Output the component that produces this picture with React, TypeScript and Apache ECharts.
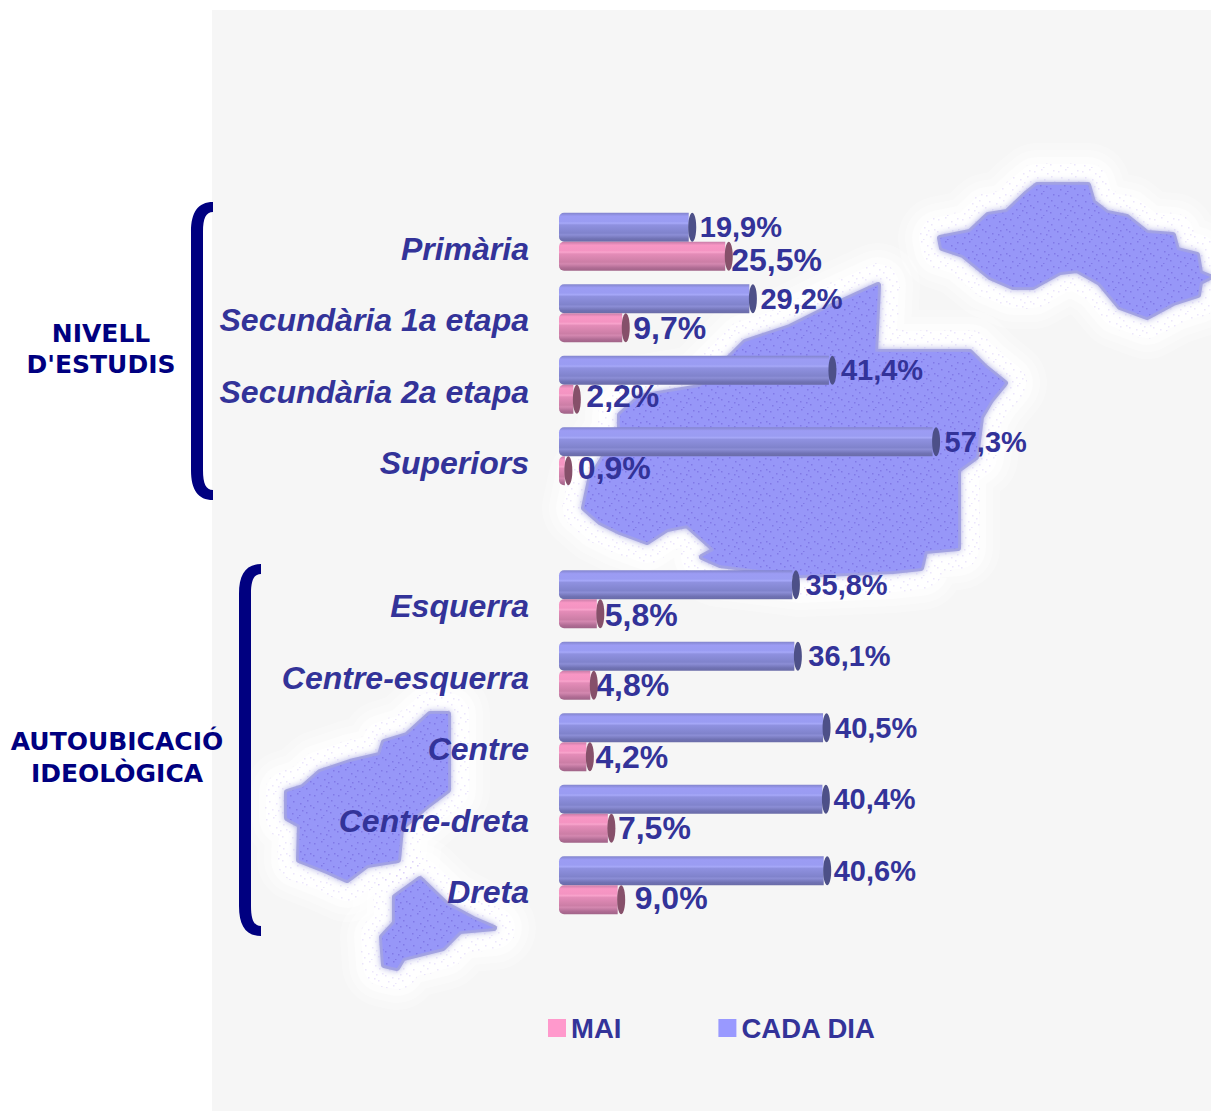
import React, { useEffect, useRef } from "react";
import * as echarts from "echarts";

const categories = ["Primària", "Secundària 1a etapa", "Secundària 2a etapa", "Superiors", "", "Esquerra", "Centre-esquerra", "Centre", "Centre-dreta", "Dreta"];
const cadaDia = [19.9, 29.2, 41.4, 57.3, null, 35.8, 36.1, 40.5, 40.4, 40.6];
const mai = [25.5, 9.7, 2.2, 0.9, null, 5.8, 4.8, 4.2, 7.5, 9.0];
const seriesNames = ["MAI", "CADA DIA"];
const groupLabels = ["NIVELL\nD'ESTUDIS", "AUTOUBICACIÓ\nIDEOLÒGICA"];

const cadaDiaNudge = [[1, 0], [1, 0], [2, 0], [2, 0], [0, 0], [3, 0], [4, 0], [2, 0], [1, 0], [0, 0]];
const maiNudge = [[-4, 4], [1, 0], [3, -3], [3, -3], [0, 0], [-2, 1], [-4, 0], [-1, 0], [0, 0], [7, -2]];

const islands = [
  [[940, 238], [970, 232], [988, 215], [1007, 212], [1027, 193], [1037, 185], [1088, 185], [1093, 202], [1107, 213], [1127, 217], [1147, 233], [1173, 235], [1177, 250], [1197, 255], [1200, 273], [1210, 277], [1200, 282], [1198, 295], [1173, 303], [1147, 317], [1120, 307], [1100, 283], [1077, 270], [1060, 272], [1033, 287], [1013, 287], [990, 277], [963, 255], [942, 248]],
  [[878, 285], [875, 352], [915, 352], [970, 352], [985, 367], [1005, 383], [991, 400], [981, 417], [976, 457], [958, 470], [958, 548], [925, 551], [921, 568], [893, 571], [800, 575], [720, 565], [702, 557], [715, 550], [687, 525], [667, 529], [647, 542], [620, 532], [600, 522], [584, 508], [590, 480], [620, 430], [620, 415], [640, 397], [700, 387], [730, 357], [745, 342], [790, 327], [830, 307]],
  [[430, 714], [448, 714], [448, 790], [428, 805], [401, 828], [398, 860], [367, 865], [347, 880], [327, 871], [299, 860], [300, 825], [287, 818], [287, 792], [303, 787], [320, 772], [350, 762], [380, 755], [384, 742], [407, 735]],
  [[420, 879], [447, 905], [473, 919], [494, 928], [460, 931], [443, 948], [403, 958], [397, 968], [384, 965], [382, 937], [395, 923], [395, 897]],
];
const dotTile = [[2, 3], [9, 1], [15, 5], [21, 2], [5, 9], [12, 11], [19, 8], [1, 15], [8, 17], [16, 14], [22, 13], [4, 21], [11, 23], [18, 20], [14, 18]];
const haloRings = [[84, 0.25], [70, 0.35], [56, 0.5], [42, 0.8]];

const INK = "#333399";
const NAVY = "#000080";
const FONT = '"Liberation Sans", Arial, sans-serif';

const stops = (list: [number, string][]) => ({
  type: "linear", x: 0, y: 0, x2: 0, y2: 1,
  colorStops: list.map(([offset, color]) => ({ offset, color })),
});
const blueFill = stops([[0, "#8284cc"], [0.12, "#9c9cf4"], [0.3, "#9a9cf2"], [0.36, "#a6a8f8"], [0.42, "#8f91e0"], [0.7, "#8083cc"], [0.76, "#8c8ed6"], [0.9, "#7072b4"], [1, "#6a6ca8"]]);
const pinkFill = stops([[0, "#c87ca8"], [0.12, "#f896c4"], [0.3, "#f494c2"], [0.36, "#f8a4cc"], [0.42, "#e48cb8"], [0.7, "#cc7ea6"], [0.76, "#d488b0"], [0.9, "#b06c94"], [1, "#a06488"]]);

const labelled = (values: (number | null)[], nudge: number[][], fontSize: number) =>
  values.map((value, i) => ({
    value,
    label: { offset: nudge[i], fontSize },
  }));
const capData = (values: (number | null)[]) => values.map((v, i) => (v === null ? ["-", i] : [v, i]));
const fmt = (p: any) => (p.value === null ? "" : p.value.toFixed(1).replace(".", ",") + "%");

function bracket(x: number, top: number, bottom: number) {
  const r = x + 22, o = x, i = x + 12;
  return `M${r} ${top} C${o + 7} ${top} ${o} ${top + 10} ${o} ${top + 30} L${o} ${bottom - 30} C${o} ${bottom - 10} ${o + 7} ${bottom} ${r} ${bottom} L${r} ${bottom - 10} C${i + 3} ${bottom - 10} ${i} ${bottom - 16} ${i} ${bottom - 30} L${i} ${top + 30} C${i} ${top + 16} ${i + 3} ${top + 10} ${r} ${top + 10} Z`;
}

function makeTile(color: string) {
  const c = document.createElement("canvas");
  c.width = 24;
  c.height = 24;
  const g = c.getContext("2d")!;
  g.fillStyle = color;
  dotTile.forEach(([x, y]) => g.fillRect(x, y, 1.5, 1.5));
  return c;
}

export default function App() {
  const ref = useRef<HTMLDivElement>(null);
  useEffect(() => {
    echarts.graphic.registerShape("bracketA", echarts.graphic.extendPath(bracket(191, 202, 500), {}));
    echarts.graphic.registerShape("bracketB", echarts.graphic.extendPath(bracket(239, 564, 936), {}));
    const chart = echarts.init(ref.current!, null, { renderer: "svg" });
    const barLabel = { show: true, position: "right", distance: 10, color: INK, fontFamily: FONT, fontWeight: "bold", formatter: fmt };
    const innerDots = { image: makeTile("rgba(90,70,200,0.38)"), repeat: "repeat" };
    const haloDots = { image: makeTile("rgba(170,140,240,0.22)"), repeat: "repeat" };
    chart.setOption({
      animation: false,
      backgroundColor: "#ffffff",
      grid: { left: 559, top: 206, width: 656, height: 715, containLabel: false },
      xAxis: { type: "value", min: 0, max: 100, show: false },
      yAxis: {
        type: "category", inverse: true, data: categories,
        axisLine: { show: false }, axisTick: { show: false }, splitLine: { show: false },
        axisLabel: { margin: 30, color: INK, fontFamily: FONT, fontSize: 32, fontWeight: "bold", fontStyle: "italic", interval: 0, verticalAlign: "top", lineHeight: 14 },
      },
      legend: {
        left: 548, top: 1014, padding: 0, itemWidth: 18, itemHeight: 18, itemGap: 97, icon: "rect",
        data: [
          { name: seriesNames[0], itemStyle: { color: "#ff99cc" } },
          { name: seriesNames[1], itemStyle: { color: "#9999ff" } },
        ],
        textStyle: { color: INK, fontFamily: FONT, fontSize: 27.5, fontWeight: "bold" },
      },
      series: [
        { name: seriesNames[1], type: "bar", barWidth: 29, barGap: 0, data: labelled(cadaDia, cadaDiaNudge, 29), itemStyle: { color: blueFill, borderRadius: [5, 0, 0, 5] }, label: barLabel, z: 3 },
        { name: seriesNames[0], type: "bar", barWidth: 29, barGap: 0, data: labelled(mai, maiNudge, 32), itemStyle: { color: pinkFill, borderRadius: [5, 0, 0, 5] }, label: barLabel, z: 3 },
        { name: "capBlue", type: "scatter", symbol: "circle", symbolSize: [8, 29], symbolOffset: [3.5, -14.5], data: capData(cadaDia), itemStyle: { color: "#4d5088", opacity: 1 }, silent: true, z: 4, clip: false },
        { name: "capPink", type: "scatter", symbol: "circle", symbolSize: [8, 29], symbolOffset: [3.5, 14.5], data: capData(mai), itemStyle: { color: "#86506a", opacity: 1 }, silent: true, z: 4, clip: false },
      ],
      graphic: [
        { type: "rect", z: -9, silent: true, shape: { x: 212, y: 10, width: 999, height: 1101 }, style: { fill: "#f6f6f6" } },
        ...haloRings.flatMap(([lineWidth, opacity]) =>
          islands.map((points) => ({
            type: "polygon", z: -8, silent: true, shape: { points },
            style: { fill: "none", stroke: "#ffffff", lineWidth, lineJoin: "round", opacity },
          }))
        ),
        ...islands.map((points) => ({
          type: "polygon", z: -7, silent: true, shape: { points },
          style: { fill: "none", stroke: haloDots, lineWidth: 44, lineJoin: "round" },
        })),
        ...islands.map((points) => ({
          type: "polygon", z: -6, silent: true, shape: { points },
          style: { fill: "#a2a2d8", stroke: "#a6a6dc", lineWidth: 6, lineJoin: "round", shadowBlur: 7, shadowColor: "#b4b4e4" },
        })),
        ...islands.map((points) => ({
          type: "polygon", z: -5, silent: true, shape: { points },
          style: { fill: "#9797f8", shadowBlur: 5, shadowColor: "#9797f8" },
        })),
        ...islands.map((points) => ({
          type: "polygon", z: -4, silent: true, shape: { points },
          style: { fill: innerDots },
        })),
        { type: "bracketA", x: 0, y: 0, z: 5, style: { fill: NAVY } },
        { type: "bracketB", x: 0, y: 0, z: 5, style: { fill: NAVY } },
        { type: "text", x: 101, y: 318, z: 5, style: { text: groupLabels[0], fill: NAVY, font: 'bold 25px "DejaVu Sans"', align: "center", lineHeight: 31 } },
        { type: "text", x: 117, y: 725, z: 5, style: { text: groupLabels[1], fill: NAVY, font: 'bold 25px "DejaVu Sans"', align: "center", lineHeight: 32 } },
      ],
    });
    return () => chart.dispose();
  }, []);
  return <div ref={ref} style={{ position: "absolute", left: 0, top: 0, width: 1211, height: 1111 }} />;
}
